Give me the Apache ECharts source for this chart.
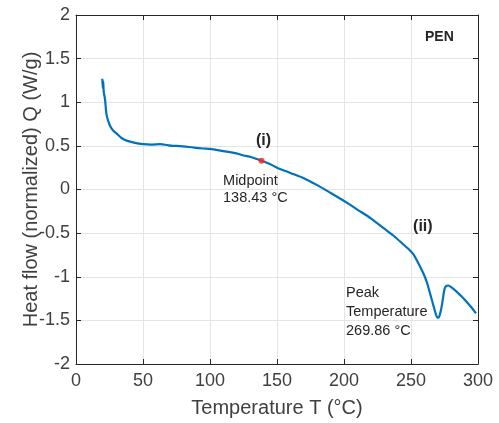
<!DOCTYPE html>
<html>
<head>
<meta charset="utf-8">
<script src="https://cdn.jsdelivr.net/npm/echarts@6/dist/echarts.min.js"></script>
<style>
  html, body { margin: 0; padding: 0; background: #fff; }
  #main { width: 499px; height: 423px; }
</style>
</head>
<body>
<div id="main"></div>
<script>
// DSC curve
var temps = [19.6, 20.0, 20.3, 20.7, 21.6, 22.9, 25.4, 28, 30.4, 34, 37.8, 44, 50.2, 56, 62.7, 68, 72, 75, 80, 88,
  95, 100, 110, 118, 125, 131, 138.43, 145, 150, 160, 170, 180, 190, 202, 212, 220, 229.3, 237, 244.3, 248,
  251.7, 255, 259.2, 262, 264.2, 266, 268, 269.86, 271, 272.9, 274.9, 276, 277.9, 280, 284, 288, 291.6, 295, 298.5];
var heatFlow = [1.27, 1.16, 1.24, 1.12, 1.04, 0.85, 0.73, 0.67, 0.64, 0.59, 0.56, 0.535, 0.52, 0.515, 0.52, 0.51, 0.50, 0.50, 0.495, 0.48,
  0.47, 0.465, 0.44, 0.42, 0.39, 0.37, 0.33, 0.29, 0.25, 0.19, 0.13, 0.05, -0.04, -0.15, -0.25, -0.33, -0.44, -0.53, -0.63, -0.68,
  -0.74, -0.83, -0.96, -1.07, -1.19, -1.29, -1.40, -1.47, -1.46, -1.34, -1.15, -1.11, -1.10, -1.12, -1.17, -1.23, -1.29, -1.35, -1.42];
var midpoint = [138.43, 0.33];
var xTicks = [0, 50, 100, 150, 200, 250, 300];
var yTicks = [-2, -1.5, -1, -0.5, 0, 0.5, 1, 1.5, 2];

var dom = document.getElementById('main');
var myChart = echarts.init(dom);
var font = '"Liberation Sans", Arial, sans-serif';
var ink = '#262626';

var lineData = temps.map(function (t, i) { return [t, heatFlow[i]]; });

// annotations in data coords
function note(x, y, text, size, bold, lh) {
  return {
    coord: [x, y],
    symbol: 'circle',
    symbolSize: 0.1,
    label: {
      show: true, position: 'right', distance: 0, formatter: text,
      fontFamily: font, fontSize: size, fontWeight: bold ? 'bold' : 'normal',
      color: ink, lineHeight: lh || size + 3, align: 'left'
    }
  };
}

function axisBase() {
  return {
    type: 'value',
    axisLine: { show: true, onZero: false, lineStyle: { color: ink, width: 1 } },
    axisTick: { show: true, inside: true, length: 5, lineStyle: { color: ink } },
    splitLine: { show: false }
  };
}

var option = {
  animation: false,
  backgroundColor: '#fff',
  grid: { left: 76, right: 21, top: 15, bottom: 55 },
  xAxis: [
    Object.assign(axisBase(), {
      min: 0, max: 300, interval: 50,
      position: 'bottom',
      name: 'Temperature T (°C)',
      nameLocation: 'middle', nameGap: 34, nameMoveOverlap: false,
      nameTextStyle: { fontFamily: font, fontSize: 20, color: '#404040' },
      axisLabel: { fontFamily: font, fontSize: 18, color: '#404040', margin: 8,
        formatter: function (v) { return xTicks.indexOf(v) >= 0 ? String(v) : ''; } },
      splitLine: { show: true, lineStyle: { color: '#e4e4e4' } }
    }),
    Object.assign(axisBase(), {
      min: 0, max: 300, interval: 50, position: 'top',
      axisLabel: { show: false }
    })
  ],
  yAxis: [
    Object.assign(axisBase(), {
      min: -2, max: 2, interval: 0.5,
      position: 'left',
      name: 'Heat flow (normalized) Q (W/g)',
      nameLocation: 'middle', nameGap: 35, nameMoveOverlap: false,
      nameTextStyle: { fontFamily: font, fontSize: 20, color: '#404040' },
      axisLabel: { fontFamily: font, fontSize: 18, color: '#404040', margin: 6,
        formatter: function (v) { return yTicks.indexOf(v) >= 0 ? String(v) : ''; } },
      splitLine: { show: true, lineStyle: { color: '#e4e4e4' } }
    }),
    Object.assign(axisBase(), {
      min: -2, max: 2, interval: 0.5, position: 'right',
      axisLabel: { show: false }
    })
  ],
  series: [
    {
      type: 'line',
      data: lineData,
      showSymbol: false,
      smooth: 0.3,
      lineStyle: { color: '#0072BD', width: 2.2 },
      markPoint: {
        silent: true,
        data: [
          note(134.3, 0.56, '(i)', 16, true),
          note(109.7, 0, 'Midpoint\n138.43 °C', 14.5, false, 17),
          note(251.5, -0.42, '(ii)', 16, true),
          note(201.5, -1.40, 'Peak\nTemperature\n269.86 °C', 14.5, false, 19),
          note(260.4, 1.75, 'PEN', 14, true)
        ]
      }
    },
    {
      type: 'scatter',
      data: [midpoint],
      symbolSize: 6,
      itemStyle: { color: '#ff2020' },
      z: 5
    }
  ]
};

myChart.setOption(option, true);
</script>
</body>
</html>
